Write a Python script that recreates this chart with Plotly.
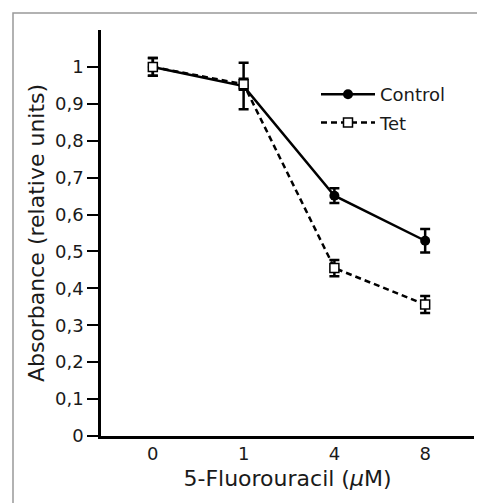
import plotly.graph_objects as go

categories = ["0", "1", "4", "8"]
control = [1.0, 0.948, 0.651, 0.529]
control_err = [0.024, 0.063, 0.02, 0.032]
tet = [1.0, 0.953, 0.455, 0.356]
tet_err = [0.024, 0.015, 0.022, 0.023]
ytick_vals = [0, 0.1, 0.2, 0.3, 0.4, 0.5, 0.6, 0.7, 0.8, 0.9, 1.0]
ytick_text = ["0", "0,1", "0,2", "0,3", "0,4", "0,5", "0,6", "0,7", "0,8", "0,9", "1"]

FONT = "DejaVu Sans"
xs = list(range(len(categories)))

fig = go.Figure()
fig.add_trace(go.Scatter(
    x=xs, y=control, name="Control", mode="lines+markers", legendgroup="c",
    line=dict(color="black", width=2.5),
    marker=dict(symbol="circle", size=10, color="black"),
    error_y=dict(type="data", array=control_err, color="black", thickness=2.5, width=5),
))
fig.add_trace(go.Scatter(
    x=xs, y=tet, name="Tet", mode="lines+markers", legendgroup="t",
    line=dict(color="black", width=2.5, dash="6px,4px"),
    marker=dict(symbol="square", size=9, color="white", line=dict(color="black", width=1.5)),
    error_y=dict(type="data", array=tet_err, color="black", thickness=2.5, width=5),
))

L, R, T, B = 101, 3, 30, 67
W, H = 477, 503
pw, ph = W - L - R, H - T - B

fig.update_layout(
    width=W, height=H,
    margin=dict(l=L, r=R, t=T, b=B),
    paper_bgcolor="white", plot_bgcolor="white",
    font=dict(family=FONT, size=18, color="#1a1a1a"),
    showlegend=True,
    legend=dict(
        x=(316 - L) / pw, y=1 - (76 - T) / ph, xanchor="left", yanchor="top",
        bgcolor="rgba(0,0,0,0)", itemwidth=54, tracegroupgap=2, traceorder="grouped",
        font=dict(size=18, family=FONT, color="#1a1a1a"),
    ),
    xaxis=dict(
        range=[-0.571, 3.538], tickvals=xs, ticktext=categories,
        showline=True, linecolor="black", linewidth=2.5, ticks="",
        showgrid=False, zeroline=False, mirror=False,
        title=dict(text="5-Fluorouracil (<i>μ</i>M)", standoff=8),
    ),
    yaxis=dict(
        range=[0, 1.1], tickvals=ytick_vals, ticktext=ytick_text,
        showline=True, linecolor="black", linewidth=2.5,
        ticks="outside", ticklen=11, tickwidth=2, tickcolor="black",
        showgrid=False, zeroline=False,
        title=dict(text="Absorbance (relative units)", standoff=5),
    ),
    shapes=[dict(
        type="rect", xref="paper", yref="paper",
        x0=(13 - L) / pw, x1=1.5, y0=-0.5, y1=1 + (T - 13) / ph,
        line=dict(color="#999", width=1.5), fillcolor="rgba(0,0,0,0)", layer="below",
    )],
)

fig.write_html(
    "out.html",
    config={"displayModeBar": False},
    post_script="document.body.style.margin='0';document.body.style.overflow='hidden';",
)
